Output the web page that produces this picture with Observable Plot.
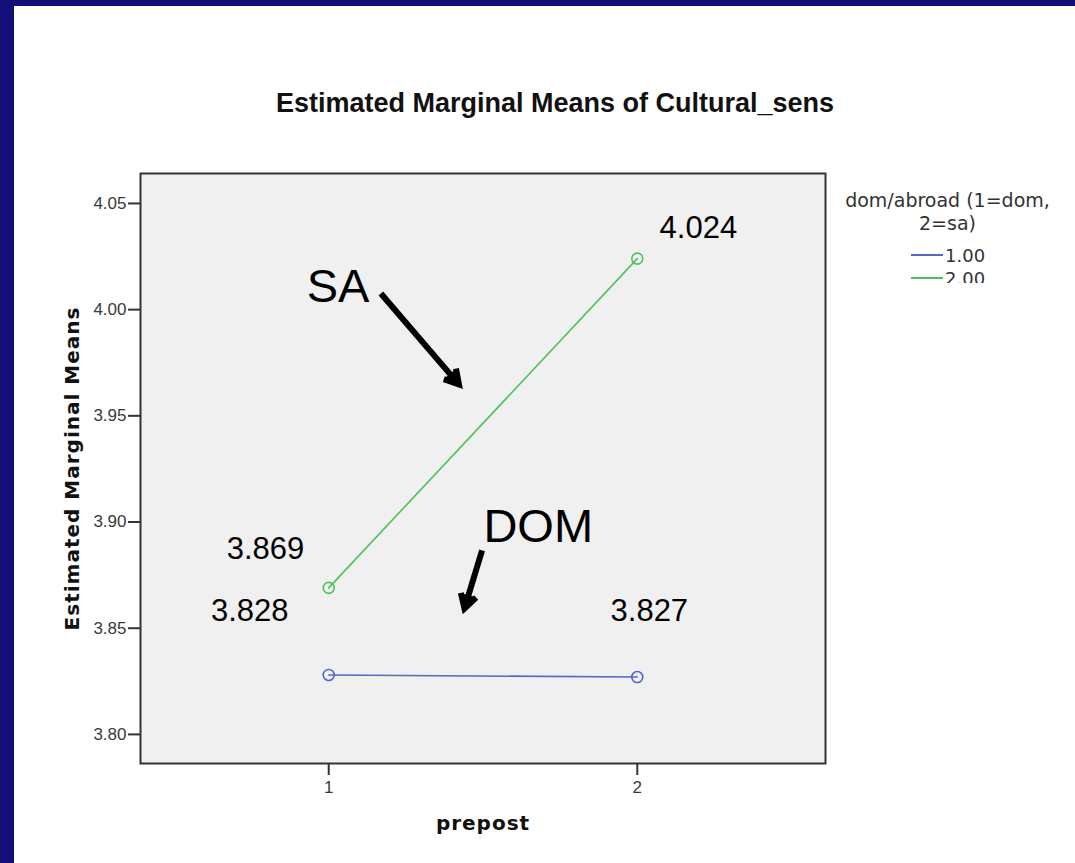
<!DOCTYPE html>
<html><head><meta charset="utf-8">
<script src="https://cdn.jsdelivr.net/npm/d3@7"></script>
<script src="https://cdn.jsdelivr.net/npm/@observablehq/plot@0.6"></script>
<style>
html,body{margin:0;padding:0;background:#fff;}
#page{position:relative;width:1075px;height:863px;overflow:hidden;background:#fff;font-family:"Liberation Sans",Arial,sans-serif;}
#chart{position:absolute;left:0;top:0;}
.bar-top{position:absolute;left:0;top:0;width:1075px;height:6px;background:#130e78;}
.bar-left{position:absolute;left:0;top:0;width:14px;height:863px;background:#130e78;}
#title{position:absolute;left:255px;width:600px;top:90px;text-align:center;font:bold 27px/27px "Liberation Sans",Arial,sans-serif;color:#111;white-space:nowrap;}
#legend{position:absolute;left:835px;top:185px;width:225px;height:98px;overflow:hidden;font-family:"DejaVu Sans",sans-serif;color:#333;}
#legend .ltitle{position:absolute;left:0;top:4px;width:225px;text-align:center;font-size:19px;line-height:23px;}
#legend .item{position:absolute;left:76px;height:23px;font-size:18px;line-height:23px;white-space:nowrap;}
#legend .swatch{display:inline-block;width:32px;height:2px;vertical-align:middle;margin-right:2px;position:relative;top:-2px;}
</style></head>
<body>
<div id="page">
  <div id="chart"></div>
  <div id="title"></div>
  <div id="legend"></div>
  <div class="bar-top"></div>
  <div class="bar-left"></div>
</div>
<script>
// ---- data ----
const prepost = [1, 2];
const groups = ["1.00", "2.00"];
const domMeans = [3.828, 3.827];
const saMeans = [3.869, 4.024];
const yTicks = [3.80, 3.85, 3.90, 3.95, 4.00, 4.05];
const xTicks = [1, 2];
const titleText = "Estimated Marginal Means of Cultural_sens";
const yLabel = "Estimated Marginal Means";
const xLabel = "prepost";
const legendTitle = ["dom/abroad (1=dom,", "2=sa)"];

// annotation values (data units)
const valueLabels = ["4.024", "3.869", "3.828", "3.827"];
const valueLabelX = [2.198, 0.795, 0.744, 2.039];
const valueLabelY = [4.0382, 3.8871, 3.8579, 3.8579];
const groupLabels = ["SA", "DOM"];
const groupLabelX = [1.03, 1.679];
const groupLabelY = [4.0105, 3.8975];
const arrowX1 = [1.169, 1.497];
const arrowY1 = [4.0076, 3.8866];
const arrowX2 = [1.422, 1.44];
const arrowY2 = [3.9648, 3.8593];

const colors = ["#5468c4", "#4cc25c"];

// ---- tables ----
const rows = prepost.flatMap((p, i) => [
  {prepost: p, group: groups[0], mean: domMeans[i]},
  {prepost: p, group: groups[1], mean: saMeans[i]}
]);
const vLabels = valueLabels.map((t, i) => ({t, x: valueLabelX[i], y: valueLabelY[i]}));
const gLabels = groupLabels.map((t, i) => ({t, x: groupLabelX[i], y: groupLabelY[i]}));
const arrows = arrowX1.map((x1, i) => ({x1, y1: arrowY1[i], x2: arrowX2[i], y2: arrowY2[i]}));

const chart = Plot.plot({
  width: 1075, height: 863,
  marginLeft: 140, marginRight: 250, marginTop: 173, marginBottom: 100,
  x: {domain: [0.39, 2.61]},
  y: {domain: [3.7863, 4.0641]},
  color: {domain: groups, range: colors},
  style: {fontFamily: "'Liberation Sans', Arial, sans-serif", fontSize: "17px", color: "#333", background: "transparent", overflow: "visible"},
  marks: [
    Plot.frame({fill: "#f0f0f0", stroke: null}),
    Plot.axisY({ticks: yTicks, tickSize: 12, tickPadding: 2, tickFormat: d3.format(".2f"), strokeWidth: 2, label: null, fontSize: 17, fill: "#3a3a3a"}),
    Plot.axisX({ticks: xTicks, tickSize: 12, tickPadding: 5, tickFormat: d => String(d), strokeWidth: 2, label: null, fontSize: 17, fill: "#3a3a3a"}),
    Plot.line(rows, {x: "prepost", y: "mean", z: "group", stroke: "group", strokeWidth: 1.6}),
    Plot.dot(rows, {x: "prepost", y: "mean", stroke: "group", fill: "none", r: 5.5, strokeWidth: 1.6}),
    Plot.frame({stroke: "#333", strokeWidth: 2}),
    Plot.text([yLabel], {text: d => d, frameAnchor: "left", textAnchor: "middle", dx: -68, rotate: -90, fontWeight: "bold", fontSize: 20, fontFamily: "DejaVu Sans", fill: "#111"}),
    Plot.text([xLabel], {text: d => d, frameAnchor: "bottom", textAnchor: "middle", dy: 66, fontWeight: "bold", fontSize: 20, fontFamily: "DejaVu Sans", fill: "#111"}),
    Plot.text(vLabels, {x: "x", y: "y", text: "t", fontSize: 31, fill: "#000"}),
    Plot.text(gLabels, {x: "x", y: "y", text: "t", fontSize: 47, fill: "#000"}),
    Plot.arrow(arrows, {x1: "x1", y1: "y1", x2: "x2", y2: "y2", stroke: "#000", fill: "#000", strokeWidth: 6, headLength: 4, headAngle: 60, strokeLinecap: "butt", strokeLinejoin: "miter", strokeMiterlimit: 10})
  ]
});
document.getElementById("chart").appendChild(chart);
// letter spacing for axis titles
chart.querySelectorAll("text").forEach(t => {
  if (t.textContent === yLabel || t.textContent === xLabel) t.setAttribute("letter-spacing", "1");
});

document.getElementById("title").textContent = titleText;
const lg = document.getElementById("legend");
const lt = document.createElement("div");
lt.className = "ltitle";
lt.innerHTML = legendTitle.join("<br>");
lg.appendChild(lt);
groups.forEach((g, i) => {
  const it = document.createElement("div");
  it.className = "item";
  it.style.top = (59 + i * 23) + "px";
  it.innerHTML = `<span class="swatch" style="background:${colors[i]}"></span>${g}`;
  lg.appendChild(it);
});
</script>
</body></html>
